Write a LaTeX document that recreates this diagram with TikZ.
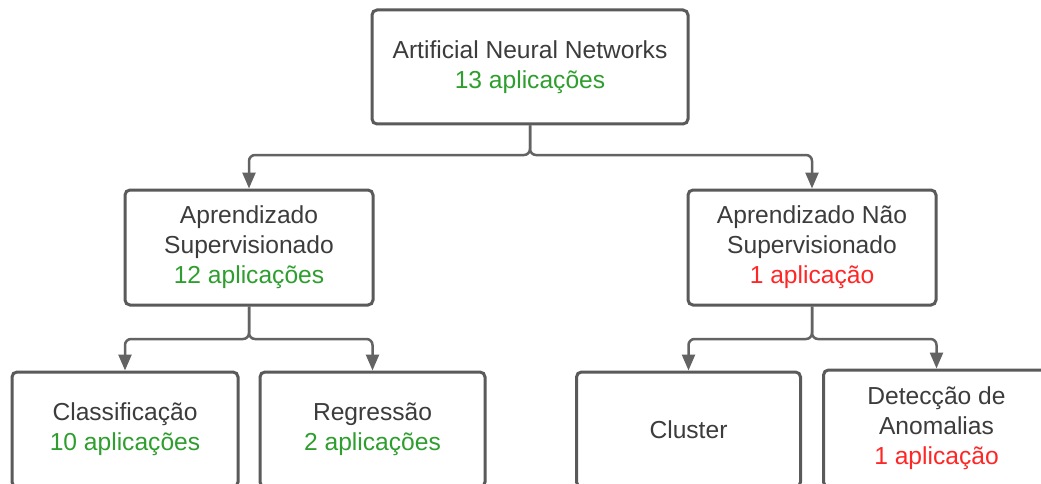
\documentclass[tikz,border=0pt]{standalone}
\usepackage{fontspec}
\setmainfont{Liberation Sans}
\usetikzlibrary{arrows.meta,calc}
\definecolor{txtgray}{HTML}{3C3C3C}
\definecolor{boxgray}{HTML}{5A5A5A}
\definecolor{linegray}{HTML}{636363}
\definecolor{appgreen}{HTML}{2E9E2E}
\definecolor{appred}{HTML}{FF2626}
\tikzset{
  box/.style={draw=boxgray, line width=3pt, rounded corners=5pt, fill=white,
    align=center, text=txtgray, inner sep=0pt,
    font=\fontsize{24.6}{30}\selectfont},
  conn/.style={draw=linegray, line width=2.5pt, rounded corners=6pt,
    -{Triangle[length=16pt,width=13pt]}},
}
\newcommand{\green}[1]{\textcolor{appgreen}{#1}}
\newcommand{\redtxt}[1]{\textcolor{appred}{#1}}
\begin{document}
\begin{tikzpicture}[x=1pt,y=-1pt]
\path[use as bounding box, clip] (0,0) rectangle (1041,484);
\fill[white] (0,0) rectangle (1041,484);

\node[box, minimum width=316pt, minimum height=114pt] (ann) at (530,67)
  {Artificial Neural Networks\\\green{13 aplicações}};
\node[box, minimum width=248pt, minimum height=115pt] (sup) at (249,247.5)
  {Aprendizado\\Supervisionado\\\green{12 aplicações}};
\node[box, minimum width=248pt, minimum height=115pt] (nsup) at (812,247.5)
  {Aprendizado Não\\Supervisionado\\\redtxt{1 aplicação}};

\node[box, minimum width=226pt, minimum height=115pt] (cla) at (125,429.5)
  {Classificação\\\green{10 aplicações}};
\node[box, minimum width=225pt, minimum height=115pt] (reg) at (372.5,429.5)
  {Regressão\\\green{2 aplicações}};
\node[box, minimum width=224pt, minimum height=115pt] (clu) at (688.5,429.5)
  {Cluster};
\node[box, minimum width=226pt, minimum height=117pt] (det) at (936.5,428.5)
  {Detecção de\\Anomalias\\\redtxt{1 aplicação}};

\coordinate (j1) at (530,155);
\coordinate (j2) at (249,339);
\coordinate (j3) at (812,339);

\draw[conn] (ann.south) -- (j1) -| (sup.north);
\draw[conn] (ann.south) -- (j1) -| (nsup.north);
\draw[conn] (sup.south) -- (j2) -| (cla.north);
\draw[conn] (sup.south) -- (j2) -| (reg.north);
\draw[conn] (nsup.south) -- (j3) -| (clu.north);
\draw[conn] (nsup.south) -- (j3) -| (det.north);
\end{tikzpicture}
\end{document}
